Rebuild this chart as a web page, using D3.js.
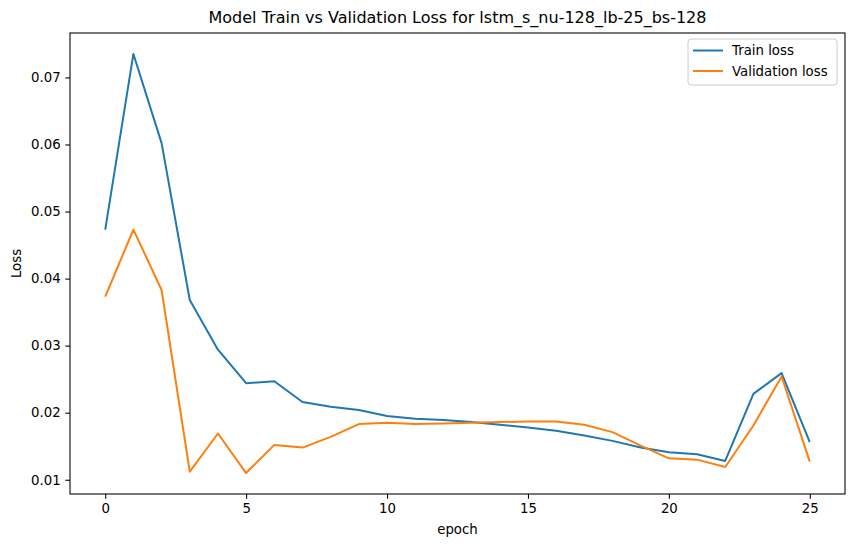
<!DOCTYPE html>
<html>
<head>
<meta charset="utf-8">
<script src="https://cdn.jsdelivr.net/npm/d3@7"></script>
<style>
  body { margin: 0; background: #fff; }
  svg { font-family: "DejaVu Sans", sans-serif; }
</style>
</head>
<body>
<svg id="chart" width="855" height="547"></svg>
<script>
const epochs = d3.range(0, 26);
const trainLoss = [0.0473, 0.0735, 0.0602, 0.0368, 0.0294, 0.0244, 0.0247, 0.0216, 0.0209, 0.0204,
    0.0195, 0.0191, 0.0189, 0.0186, 0.0182, 0.0178, 0.0173, 0.0166, 0.0158, 0.0148,
    0.0141, 0.0138, 0.0128, 0.0228, 0.0259, 0.0156];
const valLoss = [0.0373, 0.0473, 0.0383, 0.0112, 0.0169, 0.0110, 0.0152, 0.0148, 0.0164, 0.0183,
    0.0185, 0.0183, 0.0184, 0.0185, 0.0186, 0.0187, 0.0187, 0.0182, 0.0171, 0.0151,
    0.0132, 0.0130, 0.0119, 0.0181, 0.0254, 0.0127];
const xTicks = [0, 5, 10, 15, 20, 25];
const yTicks = [0.01, 0.02, 0.03, 0.04, 0.05, 0.06, 0.07];
const seriesNames = ["Train loss", "Validation loss"];
const colors = ["#1f77b4", "#ff7f0e"];

const svg = d3.select("#chart");
const margin = { top: 33, right: 10, bottom: 53, left: 70 };
const width = +svg.attr("width") - margin.left - margin.right;
const height = +svg.attr("height") - margin.top - margin.bottom;

// matplotlib style 5% padding
const allVals = trainLoss.concat(valLoss);
const yMin = d3.min(allVals), yMax = d3.max(allVals);
const yPad = (yMax - yMin) * 0.05;
const xPad = (d3.max(epochs) - d3.min(epochs)) * 0.05;

const x = d3.scaleLinear()
    .domain([d3.min(epochs) - xPad, d3.max(epochs) + xPad])
    .range([0, width]);

const y = d3.scaleLinear()
    .domain([yMin - yPad, yMax + yPad])
    .range([height, 0]);

const g = svg.append("g")
    .attr("transform", `translate(${margin.left},${margin.top})`);

const xAxis = g.append("g")
    .attr("transform", `translate(0,${height})`)
    .call(d3.axisBottom(x).tickValues(xTicks).tickFormat(d3.format("d")).tickSizeOuter(0).tickSize(4.7).tickPadding(4.7));

const yAxis = g.append("g")
    .call(d3.axisLeft(y).tickValues(yTicks).tickFormat(d3.format(".2f")).tickSizeOuter(0).tickSize(4.7).tickPadding(4.7));

[xAxis, yAxis].forEach(a => {
    a.select(".domain").remove();
    a.selectAll("text").attr("font-size", 13.3).attr("fill", "#000").attr("font-family", "DejaVu Sans");
    a.selectAll("line").attr("stroke", "#000").attr("stroke-width", 1.07);
});

const series = [trainLoss, valLoss];
const line = d3.line()
    .x((d, i) => x(epochs[i]))
    .y(d => y(d));

series.forEach((s, k) => {
    g.append("path")
        .datum(s)
        .attr("fill", "none")
        .attr("stroke", colors[k])
        .attr("stroke-width", 2)
        .attr("stroke-linejoin", "round")
        .attr("d", line);
});

// frame
g.append("rect")
    .attr("width", width)
    .attr("height", height)
    .attr("fill", "none")
    .attr("stroke", "#000")
    .attr("stroke-width", 1.07);

svg.append("text")
    .attr("x", margin.left + width / 2)
    .attr("y", 23)
    .attr("text-anchor", "middle")
    .attr("font-size", 16)
    .text("Model Train vs Validation Loss for lstm_s_nu-128_lb-25_bs-128");

svg.append("text")
    .attr("x", margin.left + width / 2)
    .attr("y", 534)
    .attr("text-anchor", "middle")
    .attr("font-size", 13.3)
    .text("epoch");

svg.append("text")
    .attr("transform", `translate(21,${margin.top + height / 2}) rotate(-90)`)
    .attr("text-anchor", "middle")
    .attr("font-size", 13.3)
    .text("Loss");

// legend
const legend = g.append("g")
    .attr("transform", `translate(${width - 157},6)`);
legend.append("rect")
    .attr("width", 149)
    .attr("height", 46)
    .attr("rx", 3)
    .attr("fill", "#fff")
    .attr("fill-opacity", 0.8)
    .attr("stroke", "#ccc")
    .attr("stroke-width", 1);
seriesNames.forEach((name, k) => {
    const row = legend.append("g").attr("transform", `translate(0,${11.5 + k * 20.5})`);
    row.append("line")
        .attr("x1", 5).attr("x2", 35)
        .attr("stroke", colors[k])
        .attr("stroke-width", 2);
    row.append("text")
        .attr("x", 44)
        .attr("dy", "0.35em")
        .attr("font-size", 13.3)
        .text(name);
});
</script>
</body>
</html>
